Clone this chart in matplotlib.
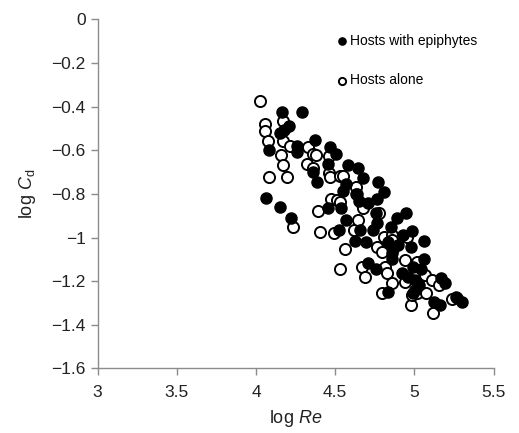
import matplotlib
matplotlib.use("Agg")
import matplotlib.pyplot as plt

plt.rcParams['font.family'] = ['Liberation Sans', 'DejaVu Sans']
plt.rcParams['mathtext.fontset'] = 'custom'
plt.rcParams['mathtext.rm'] = 'Liberation Sans'
plt.rcParams['mathtext.it'] = 'Liberation Sans:italic'

# Hosts with epiphytes (filled)
epi_x = [4.166, 4.288, 4.151, 4.206, 4.176, 4.370, 4.084, 4.256, 4.256, 4.467,
         4.505, 4.582, 4.643, 4.456, 4.361, 4.383, 4.673, 4.768, 4.567, 4.551,
         4.631, 4.808, 4.761, 4.709, 4.652, 4.061, 4.151, 4.220, 4.456, 4.536,
         4.566, 4.526, 4.757, 4.888, 4.947, 4.658, 4.625, 4.694, 4.740, 4.761,
         4.850, 4.930, 4.984, 5.062, 4.833, 4.862, 4.898, 4.976, 4.856, 4.705,
         4.757, 4.831, 4.919, 5.060, 4.993, 5.040, 4.961, 5.003, 5.030, 5.003,
         4.993, 5.125, 5.161, 5.167, 5.193, 5.271, 5.298, 5.262, 4.860, 4.640]
epi_y = [-0.426, -0.422, -0.520, -0.489, -0.507, -0.553, -0.600, -0.581, -0.607, -0.584,
         -0.617, -0.665, -0.680, -0.663, -0.698, -0.744, -0.726, -0.744, -0.752, -0.785,
         -0.798, -0.793, -0.821, -0.840, -0.831, -0.819, -0.859, -0.911, -0.866, -0.866,
         -0.920, -0.963, -0.889, -0.909, -0.885, -0.963, -1.015, -1.019, -0.966, -0.932,
         -0.950, -0.989, -0.970, -1.015, -1.022, -1.050, -1.035, -1.045, -1.096, -1.116,
         -1.143, -1.248, -1.161, -1.099, -1.134, -1.146, -1.180, -1.195, -1.218, -1.241,
         -1.256, -1.294, -1.307, -1.183, -1.210, -1.276, -1.297, -1.270, -1.070, -0.800]

# Hosts alone (open)
alone_x = [4.025, 4.058, 4.058, 4.073, 4.168, 4.168, 4.157, 4.168, 4.084, 4.198,
           4.214, 4.231, 4.328, 4.322, 4.357, 4.378, 4.463, 4.463, 4.467, 4.530,
           4.551, 4.389, 4.404, 4.494, 4.473, 4.509, 4.530, 4.564, 4.530, 4.620,
           4.646, 4.631, 4.667, 4.673, 4.667, 4.688, 4.761, 4.778, 4.793, 4.808,
           4.814, 4.829, 4.860, 4.793, 4.856, 4.940, 4.944, 4.955, 4.976, 4.982,
           5.014, 5.014, 5.071, 5.066, 5.109, 5.119, 5.157, 5.240, 4.360, 4.860]
alone_y = [-0.374, -0.477, -0.510, -0.558, -0.465, -0.558, -0.622, -0.666, -0.721, -0.724,
           -0.579, -0.950, -0.584, -0.663, -0.617, -0.623, -0.627, -0.706, -0.721, -0.718,
           -0.718, -0.877, -0.976, -0.981, -0.821, -0.828, -0.836, -1.054, -1.146, -0.963,
           -0.917, -0.767, -0.844, -0.866, -1.134, -1.180, -1.045, -0.889, -1.065, -0.996,
           -1.134, -1.164, -1.210, -1.256, -0.989, -1.103, -1.203, -0.996, -1.310, -1.264,
           -1.253, -1.111, -1.253, -1.172, -1.195, -1.345, -1.218, -1.283, -0.680, -1.010]

xticks = [3, 3.5, 4, 4.5, 5, 5.5]
xticklabels = ['3', '3.5', '4', '4.5', '5', '5.5']
yticks = [0, -0.2, -0.4, -0.6, -0.8, -1, -1.2, -1.4, -1.6]
yticklabels = ['0', '\u22120.2', '\u22120.4', '\u22120.6', '\u22120.8', '\u22121',
               '\u22121.2', '\u22121.4', '\u22121.6']

fig = plt.figure(figsize=(5.19, 4.33), dpi=100)
ax = fig.add_axes([0.188, 0.149, 0.763, 0.806])

ax.scatter(alone_x, alone_y, s=64, facecolors='white', edgecolors='black',
           linewidths=1.4, label='Hosts alone', zorder=2)
ax.scatter(epi_x, epi_y, s=64, facecolors='black', edgecolors='black',
           linewidths=1.0, label='Hosts with epiphytes', zorder=3)

ax.set_xlim(3, 5.5)
ax.set_ylim(-1.6, 0)
ax.set_xticks(xticks)
ax.set_xticklabels(xticklabels)
ax.set_yticks(yticks)
ax.set_yticklabels(yticklabels)

for side in ['top', 'right']:
    ax.spines[side].set_visible(False)
for side in ['left', 'bottom']:
    ax.spines[side].set_color('#8c8c8c')
    ax.spines[side].set_linewidth(1.0)
ax.tick_params(axis='both', colors='#8c8c8c', length=5, width=1.0,
               labelsize=12.5, labelcolor='#222222', direction='out')
ax.tick_params(axis='x', pad=7)

ax.set_xlabel('log $Re$', fontsize=13, color='#222222', labelpad=6)
ax.set_ylabel('log $C_{\\rm d}$', fontsize=13, color='#222222', labelpad=10)

handles, labels = ax.get_legend_handles_labels()
leg = ax.legend(handles[::-1], labels[::-1], loc='upper left',
                bbox_to_anchor=(0.585, 0.975), frameon=False, fontsize=10,
                markerscale=0.65, handletextpad=0.1, labelspacing=1.85,
                handlelength=1.0, borderaxespad=0)

fig.savefig('out.png', dpi=100)
